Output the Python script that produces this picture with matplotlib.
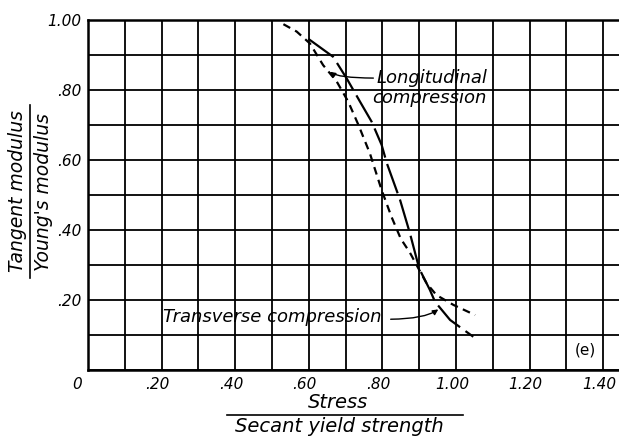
import matplotlib
matplotlib.use("Agg")
import matplotlib.pyplot as plt
import matplotlib.transforms as mtransforms
from matplotlib.lines import Line2D
import numpy as np

# tangent modulus ratio vs stress ratio, two loading directions
long_x = [0.531, 0.567, 0.603, 0.639, 0.676, 0.707, 0.735, 0.766, 0.798, 0.825,
          0.850, 0.875, 0.898, 0.920, 0.947, 0.993, 1.052]
long_y = [0.988, 0.967, 0.933, 0.871, 0.824, 0.767, 0.700, 0.619, 0.514, 0.437,
          0.375, 0.335, 0.290, 0.248, 0.214, 0.186, 0.157]

trans_x = [0.599, 0.666, 0.703, 0.739, 0.771, 0.798, 0.812, 0.848, 0.875, 0.900,
           0.929, 0.943, 0.984, 1.047]
trans_y = [0.946, 0.895, 0.833, 0.767, 0.709, 0.643, 0.591, 0.486, 0.390, 0.290,
           0.229, 0.195, 0.143, 0.095]

x_ticks = np.round(np.arange(0, 1.41, 0.1), 2)
x_labels = ["0", "", ".20", "", ".40", "", ".60", "", ".80", "", "1.00", "", "1.20", "", "1.40"]
y_ticks = np.round(np.arange(0, 1.01, 0.1), 2)
y_labels = ["", "", ".20", "", ".40", "", ".60", "", ".80", "", "1.00"]

plt.rcParams["font.family"] = ["DejaVu Sans"]

fig = plt.figure(figsize=(6.19, 4.36), dpi=100)
ax = fig.add_axes([88 / 619, 66 / 436, 531 / 619, 350 / 436])

ax.set_xlim(0, 1.443)
ax.set_ylim(0, 1.0)
ax.set_xticks(x_ticks)
ax.set_xticklabels(x_labels, fontsize=11, style="italic")
ax.set_yticks(y_ticks)
ax.set_yticklabels(y_labels, fontsize=11, style="italic")
ax.tick_params(length=0, pad=5)
ax.grid(True, color="black", lw=1.3)
for side in ["left", "top", "bottom"]:
    ax.spines[side].set_linewidth(1.8)
ax.spines["right"].set_visible(False)

# nudge x labels a little left, the origin label further
for i, lab in enumerate(ax.get_xticklabels()):
    dx = -11 if i == 0 else -4
    lab.set_transform(lab.get_transform() + mtransforms.ScaledTranslation(dx / 100, 0, fig.dpi_scale_trans))

ax.plot(long_x, long_y, color="black", lw=1.6, dashes=(3.5, 2.5))
ax.plot(trans_x, trans_y, color="black", lw=1.6, dashes=(14, 3))

ax.text(0.785, 0.834, "Longitudinal", fontsize=13, style="italic", va="center", ha="left")
ax.text(0.772, 0.777, "compression", fontsize=13, style="italic", va="center", ha="left")
ax.annotate("", xy=(0.652, 0.858), xytext=(0.783, 0.834),
            arrowprops=dict(arrowstyle="-|>", color="black", lw=1.0, mutation_scale=8,
                            connectionstyle="angle3,angleA=180,angleB=-60"))

ax.text(0.205, 0.151, "Transverse compression", fontsize=13, style="italic", va="center", ha="left")
ax.annotate("", xy=(0.958, 0.178), xytext=(0.815, 0.145),
            arrowprops=dict(arrowstyle="-|>", color="black", lw=1.0, mutation_scale=8,
                            connectionstyle="angle3,angleA=0,angleB=40"))

ax.text(1.351, 0.057, "(e)", fontsize=11, va="center", ha="center")

# axis labels written as fractions
fig.text(0.546, 0.076, "Stress", fontsize=14, style="italic", ha="center", va="center")
fig.add_artist(Line2D([0.367, 0.748], [0.048, 0.048], color="black", lw=1.2))
fig.text(0.549, 0.021, "Secant yield strength", fontsize=14, style="italic", ha="center", va="center")

fig.text(0.029, 0.562, "Tangent modulus", fontsize=13.5, style="italic", rotation=90, ha="center", va="center")
fig.add_artist(Line2D([0.049, 0.049], [0.362, 0.759], color="black", lw=1.2))
fig.text(0.071, 0.560, "Young's modulus", fontsize=13.5, style="italic", rotation=90, ha="center", va="center")

fig.savefig("out.png", dpi=100)
